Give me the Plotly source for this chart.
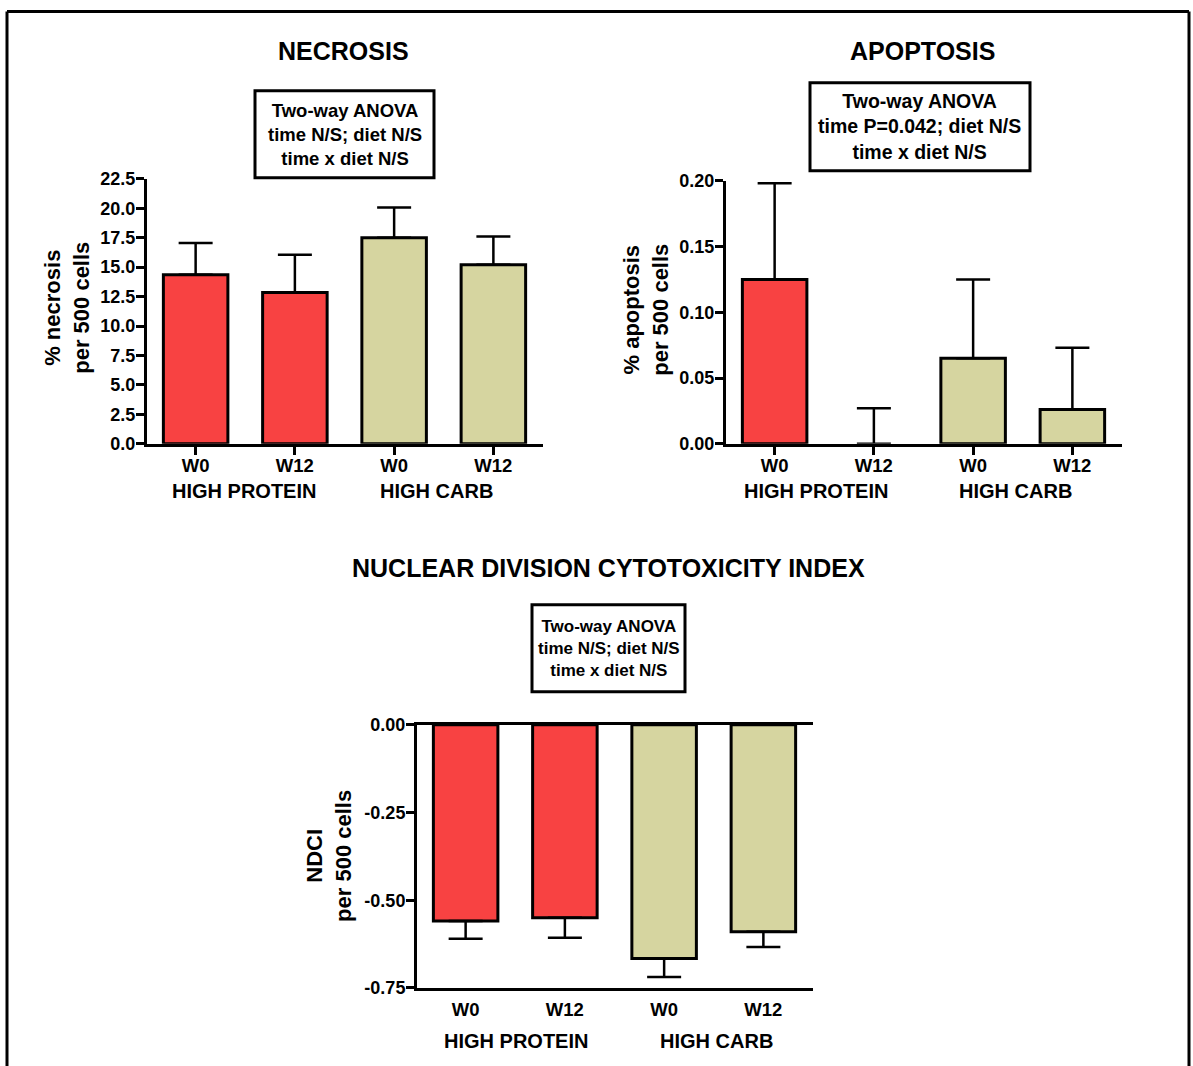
import plotly.graph_objects as go

# ---------------- data ----------------
timepoints = ["W0", "W12", "W0", "W12"]
diets = ["HIGH PROTEIN", "HIGH CARB"]
bar_colors = ["#F84242", "#F84242", "#D6D5A0", "#D6D5A0"]

necrosis_mean = [14.35, 12.85, 17.5, 15.2]
necrosis_err = [2.7, 3.2, 2.55, 2.4]
necrosis_ticks = [0.0, 2.5, 5.0, 7.5, 10.0, 12.5, 15.0, 17.5, 20.0, 22.5]

apoptosis_mean = [0.125, 0.0, 0.065, 0.026]
apoptosis_err = [0.073, 0.027, 0.060, 0.047]
apoptosis_ticks = [0.0, 0.05, 0.10, 0.15, 0.20]

ndci_mean = [-0.559, -0.550, -0.666, -0.590]
ndci_err = [0.051, 0.057, 0.053, 0.043]
ndci_ticks = [-0.75, -0.50, -0.25, 0.0]

anova_necrosis = "Two-way ANOVA<br>time N/S; diet N/S<br>time x diet N/S"
anova_apoptosis = "Two-way ANOVA<br>time P=0.042; diet N/S<br>time x diet N/S"
anova_ndci = "Two-way ANOVA<br>time N/S; diet N/S<br>time x diet N/S"

# ---------------- layout helpers ----------------
W, H = 1193, 1066
FONT = "Liberation Sans, Arial, Helvetica, sans-serif"
# vertical calibration of the rendered page (observed offset / scale)
Y_OFF, Y_SCALE = 9.3, 0.981


def px(x):
    return x / W


def py(y):
    yy = (y - Y_OFF) / Y_SCALE
    return 1 - yy / H


cats = list(range(len(timepoints)))
fig = go.Figure()

panels = [
    dict(mean=necrosis_mean, err=necrosis_err, ticks=necrosis_ticks, fmt="{:.1f}",
         xd=(147, 543), yd=(443, 178), rng=[0, 22.5], neg=False, xticks=True,
         title="NECROSIS", tx=343, ty=50,
         ytitle="% necrosis<br>per 500 cells", ytx=67, yty=307,
         box=(255, 90, 434, 177), anova=anova_necrosis, afs=18.5,
         glab_y=490, glab_x=[0.49, 2.43]),
    dict(mean=apoptosis_mean, err=apoptosis_err, ticks=apoptosis_ticks, fmt="{:.2f}",
         xd=(726, 1122), yd=(443, 180), rng=[0, 0.2], neg=False, xticks=True,
         title="APOPTOSIS", tx=922, ty=50,
         ytitle="% apoptosis<br>per 500 cells", ytx=646, yty=309,
         box=(810, 82, 1030, 170), anova=anova_apoptosis, afs=19.5,
         glab_y=490, glab_x=[0.42, 2.43]),
    dict(mean=ndci_mean, err=ndci_err, ticks=ndci_ticks, fmt="{:.2f}",
         xd=(417, 813), yd=(987, 724), rng=[-0.75, 0], neg=True, xticks=False,
         title="NUCLEAR DIVISION CYTOTOXICITY INDEX", tx=608, ty=567,
         ytitle="NDCI<br>per 500 cells", ytx=329, yty=855,
         box=(532, 604, 685, 691), anova=anova_ndci, afs=17,
         glab_y=1040, glab_x=[0.51, 2.53]),
]

shapes = []
annotations = []

for i, p in enumerate(panels, start=1):
    xa = "x" if i == 1 else f"x{i}"
    ya = "y" if i == 1 else f"y{i}"
    zeros = [0] * len(p["err"])
    err = dict(type="data", symmetric=False,
               array=zeros if p["neg"] else p["err"],
               arrayminus=p["err"] if p["neg"] else zeros,
               color="black", thickness=2.5, width=17)
    outline = [0 if v == 0 else 3 for v in p["mean"]]
    fig.add_trace(go.Bar(
        x=cats, y=p["mean"], xaxis=xa, yaxis=ya, width=0.65,
        marker=dict(color=bar_colors, line=dict(color="black", width=outline)),
        error_y=err, showlegend=False, hoverinfo="y"))

    xkey = "xaxis" if i == 1 else f"xaxis{i}"
    ykey = "yaxis" if i == 1 else f"yaxis{i}"
    fig.update_layout(**{
        xkey: dict(domain=[px(p["xd"][0]), px(p["xd"][1])], anchor=ya,
                   range=[-0.49, 3.5], tickvals=cats, ticktext=timepoints,
                   showline=True, linecolor="black", linewidth=3,
                   mirror=True if p["neg"] else False,
                   ticks="outside", ticklen=8, tickwidth=3,
                   tickcolor="black" if p["xticks"] else "rgba(0,0,0,0)",
                   ticklabelstandoff=-5,
                   showgrid=False, zeroline=False, fixedrange=True,
                   tickfont=dict(family=FONT, size=18.5, color="black", weight="bold")),
        ykey: dict(domain=[py(p["yd"][0]), py(p["yd"][1])], anchor=xa,
                   range=p["rng"], tickvals=p["ticks"],
                   ticktext=[p["fmt"].format(v) for v in p["ticks"]],
                   showline=True, linecolor="black", linewidth=3,
                   ticks="outside", ticklen=8, tickwidth=3, tickcolor="black",
                   ticklabelstandoff=-3,
                   showgrid=False, zeroline=False, fixedrange=True,
                   tickfont=dict(family=FONT, size=18, color="black", weight="bold")),
    })

    # panel title
    annotations.append(dict(text=p["title"], x=px(p["tx"]), y=py(p["ty"]),
                            xref="paper", yref="paper", showarrow=False,
                            xanchor="center", yanchor="middle",
                            font=dict(family=FONT, size=25, color="black", weight="bold")))
    # y-axis title
    annotations.append(dict(text=p["ytitle"], x=px(p["ytx"]), y=py(p["yty"]),
                            xref="paper", yref="paper", showarrow=False,
                            textangle=-90, xanchor="center", yanchor="middle",
                            font=dict(family=FONT, size=22, color="black", weight="bold")))
    # ANOVA box
    x0, y0, x1, y1 = p["box"]
    shapes.append(dict(type="rect", xref="paper", yref="paper",
                       x0=px(x0), x1=px(x1), y0=py(y1), y1=py(y0),
                       line=dict(color="black", width=3), fillcolor="white"))
    annotations.append(dict(text=p["anova"], x=px((x0 + x1) / 2), y=py((y0 + y1) / 2),
                            xref="paper", yref="paper", showarrow=False,
                            xanchor="center", yanchor="middle", align="center",
                            font=dict(family=FONT, size=p["afs"], color="black", weight="bold")))
    # diet group labels
    for gx, label in zip(p["glab_x"], diets):
        annotations.append(dict(text=label, x=gx, xref=xa, y=py(p["glab_y"]),
                                yref="paper", showarrow=False,
                                xanchor="center", yanchor="middle",
                                font=dict(family=FONT, size=20, color="black", weight="bold")))

# outer frame (open at the bottom)
frame = dict(color="black", width=3)
top = 1 - 1.5 / H
shapes.append(dict(type="line", xref="paper", yref="paper",
                   x0=px(7), x1=px(1189), y0=top, y1=top, line=frame))
shapes.append(dict(type="line", xref="paper", yref="paper",
                   x0=px(7), x1=px(7), y0=top, y1=-0.05, line=frame))
shapes.append(dict(type="line", xref="paper", yref="paper",
                   x0=px(1189), x1=px(1189), y0=top, y1=-0.05, line=frame))

fig.update_layout(width=W, height=H, margin=dict(l=0, r=0, t=0, b=0),
                  paper_bgcolor="white", plot_bgcolor="white",
                  shapes=shapes, annotations=annotations, bargap=0.3,
                  font=dict(family=FONT, color="black"))

fig.write_html("out.html")
